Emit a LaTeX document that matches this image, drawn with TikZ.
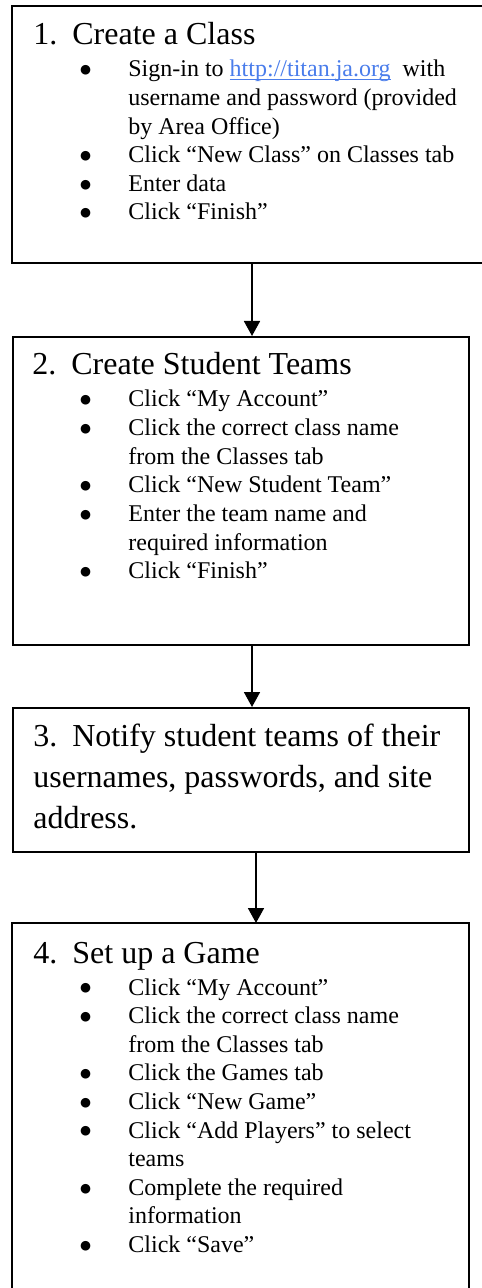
\documentclass[tikz,border=0pt]{standalone}
\usepackage{fontspec}
\setmainfont{Liberation Serif}
\newfontfamily\dejavu{DejaVu Sans}
\usetikzlibrary{arrows.meta}
\definecolor{linkblue}{RGB}{74,125,235}
\newcommand\bul{\leavevmode\llap{\raisebox{1.6pt}{\dejavu\fontsize{6.3}{6.5}\selectfont ●}\hspace{18.6pt}}}
\newcommand\numlbl[1]{\makebox[19.5pt][l]{#1}}
\newcommand\ulink[1]{\setbox0\hbox{#1}\rlap{\rule[-1.4pt]{\wd0}{0.6pt}}\box0}
\begin{document}
\begin{tikzpicture}[x=0.5pt,y=-0.5pt,
  frame/.style={line width=0.9pt},
  boxnode/.style={draw, line width=0.9pt, anchor=north west, inner sep=0pt, minimum width=228pt},
  ghost/.style={anchor=north west, inner sep=0pt},
  ttl/.style={anchor=base west, inner sep=0pt, font=\fontsize{16}{20.5}\selectfont},
  lst/.style={anchor=base west, inner sep=0pt, font=\fontsize{12}{14.3}\selectfont},
  arr/.style={line width=0.9pt, -{Triangle[width=8pt,length=7.5pt]}}]
\useasboundingbox (0,0) rectangle (481,1288);
% Box 1
\node[ghost, minimum width=234.5pt, minimum height=128pt] (b1) at (12,6) {};
\draw[frame] (b1.north east) -- (b1.north west) -- (b1.south west) -- (b1.south east);
\node[ttl] (t1) at (33,45) {\numlbl{1.}Create a Class};
\node[lst] (l1) at (128,77) {\parbox[t]{172pt}{\bul Sign-in to \textcolor{linkblue}{\ulink{http://titan.ja.org}}\ \ with\\
username and password (provided\\
by Area Office)\\
\bul Click “New Class” on Classes tab\\
\bul Enter data\\
\bul Click “Finish”}};
% Box 2
\node[boxnode, minimum height=154pt] (b2) at (12,336) {};
\node[ttl] (t2) at (32,375) {\numlbl{2.}Create Student Teams};
\node[lst] (l2) at (128,407) {\parbox[t]{165pt}{\bul Click “My Account”\\
\bul Click the correct class name\\
from the Classes tab\\
\bul Click “New Student Team”\\
\bul Enter the team name and\\
required information\\
\bul Click “Finish”}};
% Box 3
\node[boxnode, minimum height=72pt] (b3) at (12,707) {};
\node[ttl] (t3) at (33,746) {\parbox[t]{210pt}{\numlbl{3.}Notify student teams of their\\
usernames, passwords, and site\\
address.}};
% Box 4
\node[ghost, minimum width=228pt, minimum height=183.5pt] (b4) at (12,923) {};
\draw[frame] (b4.south west) -- (b4.north west) -- (b4.north east) -- (b4.south east);
\node[ttl] (t4) at (33,963) {\numlbl{4.}Set up a Game};
\node[lst] (l4) at (128,995) {\parbox[t]{165pt}{\bul Click “My Account”\\
\bul Click the correct class name\\
from the Classes tab\\
\bul Click the Games tab\\
\bul Click “New Game”\\
\bul Click “Add Players” to select\\
teams\\
\bul Complete the required\\
information\\
\bul Click “Save”}};
% Arrows
\coordinate (ax1) at (252,0);
\coordinate (ax3) at (256,0);
\draw[arr] (b1.south -| ax1) -- (b2.north -| ax1);
\draw[arr] (b2.south -| ax1) -- (b3.north -| ax1);
\draw[arr] (b3.south -| ax3) -- (b4.north -| ax3);
\end{tikzpicture}
\end{document}
